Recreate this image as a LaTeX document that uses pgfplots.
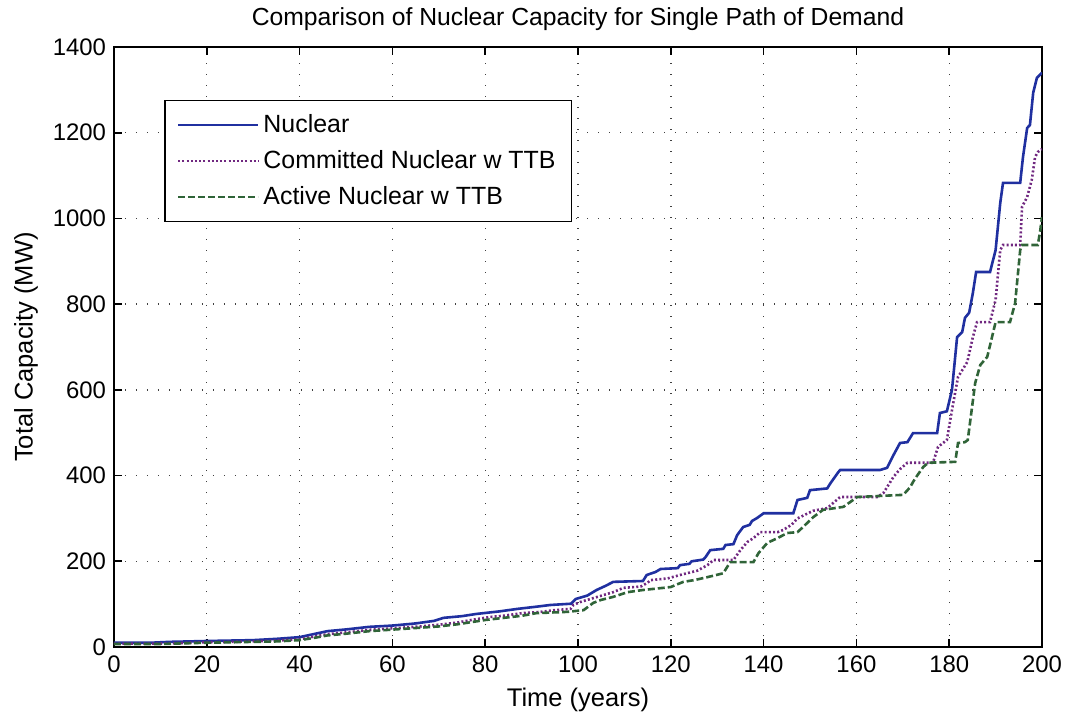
\documentclass[border=0pt]{standalone}
\usepackage{pgfplots}
\pgfplotsset{compat=1.18}
\usepackage{fontspec}
\setmainfont{Liberation Sans}

\definecolor{nucblue}{RGB}{32,48,160}
\definecolor{compurple}{RGB}{112,40,128}
\definecolor{actgreen}{RGB}{48,100,56}

\begin{document}
\begin{tikzpicture}
\begin{axis}[
  scale only axis,
  width=464bp, height=300bp,
  xmin=0, xmax=200, ymin=0, ymax=1400,
  xtick={0,20,...,200},
  ytick={0,200,...,1400},
  grid=major,
  major grid style={black!75, line width=0.7bp, dash pattern=on 0.7bp off 4.8bp},
  axis line style={black, line width=0.8bp},
  tick style={black, line width=0.8bp},
  major tick length=4bp,
  tick align=inside,
  /pgf/number format/assume math mode=true,
  /pgf/number format/1000 sep={},
  ticklabel style={font=\fontsize{12}{14}\selectfont},
  xticklabel style={yshift=-1bp},
  yticklabel style={xshift=-0.5bp},
  every axis title shift=0pt,
  title={Comparison of Nuclear Capacity for Single Path of Demand},
  title style={font=\fontsize{12.4}{14}\selectfont, at={(0.5,1)}, anchor=base, yshift=10.5bp},
  xlabel={Time (years)},
  ylabel={Total Capacity (MW)},
  xlabel style={font=\fontsize{12.8}{15}\selectfont, at={(0.5,-0.0883)}, anchor=center},
  ylabel style={font=\fontsize{12.8}{15}\selectfont, at={(-0.0948,0.5)}, anchor=center},
  legend style={at={(0.054,0.912)}, anchor=north west,
    font=\fontsize{12.5}{14.5}\selectfont,
    draw=black, line width=0.8bp, row sep=3.5bp,
    inner xsep=6bp, inner ysep=5bp, cells={anchor=west}},
  legend image code/.code={\draw[#1] (0bp,0bp) -- (40bp,0bp);},
  legend cell align=left,
]
\addplot[nucblue, line width=1.3bp] coordinates {
(0,10) (8,10) (12,12) (20,14) (30,16) (35,19) (40,23) (43,30) (46,37) (50,41)
(55,47) (60,50) (65,55) (69,61) (71,68) (75,72) (78,77) (83,83) (87,89) (91,94)
(94,98) (98.5,101) (99.5,112) (102,120) (104,133) (106,143) (107.6,152) (114,154)
(114.8,168) (116.7,175) (117.8,182) (121.5,184) (122,191) (124,194) (124.5,200)
(127,204) (127.5,210) (128.5,226) (131.3,229) (131.8,238) (133.5,240) (134.3,261)
(135.6,280) (137,285) (137.5,294) (138.6,301) (140,312) (146.4,312) (147.3,343)
(149.4,348) (150,366) (153.7,370) (154.4,382) (156.1,408) (156.5,413) (165.1,413)
(166.6,418) (168,448) (169.4,476) (171,478) (172.2,499) (177.4,499) (178,546)
(179.5,550) (180.6,600) (181.7,723) (182.8,735) (183.4,768) (184.3,780) (185.1,826)
(185.8,875) (188.8,875) (190,926) (191,1036) (191.6,1083) (195.3,1083) (195.9,1143)
(196.8,1211) (197.4,1218) (198.1,1293) (198.9,1328) (200,1340)
};
\addlegendentry{Nuclear}
\addplot[compurple, line width=1.3bp, dash pattern=on 1bp off 1.1bp] coordinates {
(0,8) (10,8) (20,11) (30,13) (35,15) (40,18) (43,24) (46,30) (50,34) (55,40)
(62,45) (66,48) (70,52) (74,57) (77,63) (81,70) (84,73) (88,79) (92,82) (95,86)
(98.4,89) (99,98) (100.5,105) (104.2,117) (107.6,128) (109.8,138) (113.5,141)
(115,150) (115.6,156) (119.3,160) (122,168) (125.7,178) (127.9,191) (129.2,203)
(133.5,203) (135,226) (136.5,245) (137.8,254) (139.3,268) (143,268) (144.2,273)
(146,285) (147.3,300) (150.7,318) (153.7,324) (155,336) (156.5,350) (164.5,350)
(165.8,359) (168,397) (169.4,415) (171,430) (176.5,430) (177.6,467) (179.5,483)
(180.6,553) (181.9,630) (183.9,665) (185.1,723) (186,758) (188.8,758) (190,810)
(191,926) (191.6,938) (195.3,938) (195.7,1027) (196.8,1050) (197.8,1090)
(198.5,1143) (199.1,1155) (200,1162)
};
\addlegendentry{Committed Nuclear w TTB}
\addplot[actgreen, line width=1.3bp, dash pattern=on 3.5bp off 1.5bp] coordinates {
(0,7) (10,7) (20,10) (30,12) (35,13) (40,16) (43,21) (46,27) (50,31) (55,37)
(62,42) (66,45) (70,48) (74,53) (77,58) (80,63) (84,68) (88,73) (91,79) (97.7,82)
(101.2,86) (103.3,103) (105,110) (107.6,117) (110.7,128) (114,133) (118.4,138)
(120,140) (122.7,152) (125,156) (127.9,163) (131.3,172) (132.8,198) (137.8,198)
(138.9,219) (140.8,243) (143,254) (145.1,266) (147.3,268) (148.5,280) (150.7,303)
(152.8,320) (157.2,327) (160.2,350) (170.1,355) (171.6,373) (172.2,385) (173.1,400)
(174.4,420) (175.5,430) (181.3,432) (181.9,476) (183.4,478) (184,483) (185.6,616)
(186.7,658) (188.2,677) (190,758) (193.1,758) (194.2,802) (195.3,926) (195.7,938)
(199.1,938) (199.6,970) (200,1003)
};
\addlegendentry{Active Nuclear w TTB}
\end{axis}
\pgfresetboundingbox
\path (-57bp,-36bp) rectangle (476bp,323.5bp);
\end{tikzpicture}
\end{document}
